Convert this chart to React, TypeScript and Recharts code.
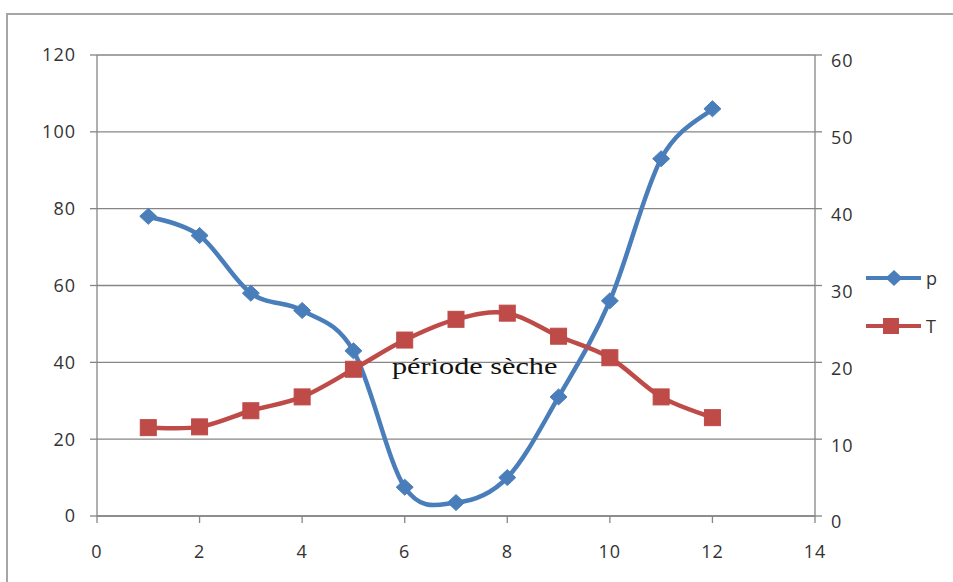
import { CartesianGrid, ComposedChart, Line, XAxis, YAxis } from "recharts";

// month index, rainfall p (left axis) and temperature T (right axis)
const MONTHS = [1, 2, 3, 4, 5, 6, 7, 8, 9, 10, 11, 12];
const P_VALUES = [78, 73, 58, 53.5, 43, 7.5, 3.5, 10, 31, 56, 93, 106];
const T_VALUES = [11.5, 11.6, 13.7, 15.5, 19.1, 22.9, 25.6, 26.4, 23.4, 20.6, 15.5, 12.8];
const X_TICKS = [0, 2, 4, 6, 8, 10, 12, 14];
const LEFT_TICKS = [0, 20, 40, 60, 80, 100, 120];
const RIGHT_TICKS = [0, 10, 20, 30, 40, 50, 60];

const BLUE = "#4a7ebb";
const RED = "#be4b48";
const GRID = "#868686";
const INK = "#333333";
const FONT = "'Open Sans', 'Noto Sans', sans-serif";
const TICK_STYLE = { fill: INK, fontSize: 18, fontFamily: FONT, letterSpacing: 1 };

const data = MONTHS.map((m, i) => ({ m, p: P_VALUES[i], T: T_VALUES[i] }));

// Catmull-Rom style smoothing, like an office chart "smoothed line"
function smoothCurve(context: any) {
  let pts: [number, number][] = [];
  return {
    areaStart() {},
    areaEnd() {},
    lineStart() {
      pts = [];
    },
    point(x: number, y: number) {
      pts.push([+x, +y]);
    },
    lineEnd() {
      if (!pts.length) return;
      context.moveTo(pts[0][0], pts[0][1]);
      for (let i = 0; i < pts.length - 1; i++) {
        const p0 = pts[Math.max(0, i - 1)];
        const p1 = pts[i];
        const p2 = pts[i + 1];
        const p3 = pts[Math.min(pts.length - 1, i + 2)];
        context.bezierCurveTo(
          p1[0] + (p2[0] - p0[0]) / 6,
          p1[1] + (p2[1] - p0[1]) / 6,
          p2[0] - (p3[0] - p1[0]) / 6,
          p2[1] - (p3[1] - p1[1]) / 6,
          p2[0],
          p2[1],
        );
      }
    },
  };
}

const diamondPath = (cx: number, cy: number) =>
  `M${cx},${cy - 8}L${cx + 8.5},${cy}L${cx},${cy + 8}L${cx - 8.5},${cy}Z`;

const Diamond = (props: any) => {
  const { cx, cy } = props;
  if (cx == null || cy == null) return null;
  return <path d={diamondPath(cx, cy)} fill={BLUE} stroke={BLUE} />;
};

const Square = (props: any) => {
  const { cx, cy } = props;
  if (cx == null || cy == null) return null;
  return <rect x={cx - 8} y={cy - 8} width={16} height={16} fill={RED} stroke={RED} />;
};

function LegendBox() {
  const rows = [
    { name: "p", color: BLUE, y: 278 },
    { name: "T", color: RED, y: 326 },
  ];
  return (
    <svg width={953} height={582} style={{ position: "absolute", left: 0, top: 0 }}>
      {rows.map((r) => (
        <g key={r.name}>
          <line x1={866} x2={921} y1={r.y} y2={r.y} stroke={r.color} strokeWidth={4} />
          {r.name === "p" ? (
            <path d={diamondPath(894, r.y)} fill={r.color} />
          ) : (
            <rect x={883} y={r.y - 8} width={16} height={16} fill={r.color} />
          )}
          <text x={926} y={r.y + 7} fontFamily={FONT} fontSize={18} fill={INK}>
            {r.name}
          </text>
        </g>
      ))}
    </svg>
  );
}

export default function App() {
  return (
    <div style={{ position: "absolute", left: 0, top: 0, width: 953, height: 582, overflow: "hidden", background: "#fff" }}>
      <div
        style={{
          position: "absolute",
          left: 6,
          top: 13,
          width: 980,
          height: 620,
          border: "2px solid #a6a6a6",
        }}
      />
      <ComposedChart
        width={953}
        height={582}
        data={data}
        margin={{ top: 55, right: 78, bottom: 0, left: 37 }}
        style={{ position: "absolute", left: 0, top: 0 }}
      >
        <CartesianGrid vertical={false} stroke={GRID} strokeWidth={1.3} yAxisId="left" />
        <XAxis
          dataKey="m"
          type="number"
          domain={[0, 14]}
          ticks={X_TICKS}
          interval={0}
          stroke={GRID}
          strokeWidth={1.3}
          tickSize={7}
          tickMargin={22}
          height={66}
          tick={TICK_STYLE}
        />
        <YAxis
          yAxisId="left"
          domain={[0, 120]}
          ticks={LEFT_TICKS}
          interval={0}
          stroke={GRID}
          strokeWidth={1.3}
          tickSize={7}
          tickMargin={14}
          width={60}
          tick={TICK_STYLE}
        />
        <YAxis
          yAxisId="right"
          orientation="right"
          domain={[0, 60]}
          ticks={RIGHT_TICKS}
          interval={0}
          stroke={GRID}
          strokeWidth={1.3}
          tickSize={7}
          tickMargin={9}
          width={60}
          tick={{ ...TICK_STYLE, dy: 6 }}
        />
        <Line
          yAxisId="left"
          dataKey="p"
          name="p"
          type={smoothCurve as any}
          stroke={BLUE}
          strokeWidth={4.5}
          dot={<Diamond />}
          activeDot={false}
          isAnimationActive={false}
        />
        <Line
          yAxisId="right"
          dataKey="T"
          name="T"
          type={smoothCurve as any}
          stroke={RED}
          strokeWidth={4.5}
          dot={<Square />}
          activeDot={false}
          isAnimationActive={false}
        />
      </ComposedChart>
      <LegendBox />
      <div
        style={{
          position: "absolute",
          left: 392,
          top: 353,
          fontFamily: "'Liberation Serif', serif",
          fontSize: 24,
          color: "#111",
          whiteSpace: "nowrap",
          transform: "scaleX(1.26)",
          transformOrigin: "left top",
        }}
      >
        période sèche
      </div>
    </div>
  );
}
